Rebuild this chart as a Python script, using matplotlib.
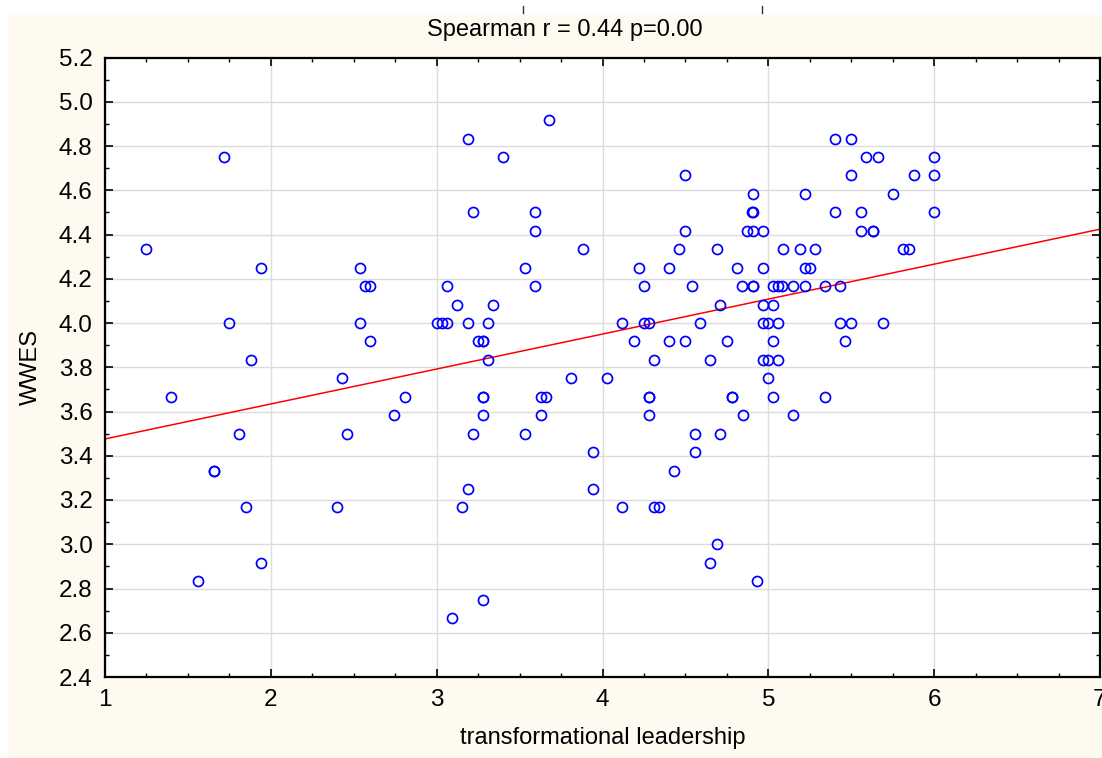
import matplotlib
matplotlib.use("Agg")
import matplotlib.pyplot as plt
from matplotlib.ticker import MultipleLocator
from matplotlib.lines import Line2D
import numpy as np

plt.rcParams['font.family'] = ['Liberation Sans', 'DejaVu Sans']

# transformational leadership (x) and WWES (y)
tl = [
    1.72, 1.25, 1.94, 2.54, 2.57, 2.60, 1.75, 2.54, 2.60, 1.88, 1.40, 2.43, 2.81, 2.74,
    1.81, 2.46, 1.66, 1.66, 1.85, 2.40, 1.94, 1.56,
    3.68, 3.19, 3.40, 4.50, 4.91, 3.22, 3.59, 4.90, 4.91, 3.59, 4.50, 4.87, 4.91, 4.97,
    3.88, 4.46, 4.69, 3.53, 4.22, 4.40, 4.81, 4.97, 3.06, 3.59, 4.25, 4.54, 4.84, 4.91,
    4.91, 3.12, 3.34, 4.71, 4.97, 3.00, 3.03, 3.06, 3.19, 3.31, 4.12, 4.25, 4.28, 4.59,
    4.97, 3.25, 3.28, 3.28, 4.19, 4.40, 4.50, 4.75, 3.31, 4.31, 4.65, 4.97, 3.81, 4.03,
    3.28, 3.28, 3.63, 3.66, 4.28, 4.28, 4.78, 4.78, 3.28, 3.63, 4.28, 4.85, 3.22, 3.53,
    4.56, 4.71, 3.94, 4.56, 4.43, 3.19, 3.94, 3.15, 4.12, 4.31, 4.34, 4.69, 4.65, 4.93,
    3.28, 3.09,
    5.40, 5.50, 5.59, 5.66, 6.00, 5.50, 5.88, 6.00, 5.22, 5.75, 5.40, 5.56, 6.00, 5.56,
    5.63, 5.63, 5.09, 5.19, 5.28, 5.81, 5.85, 5.22, 5.25, 5.03, 5.06, 5.08, 5.15, 5.22,
    5.34, 5.43, 5.03, 5.00, 5.06, 5.43, 5.50, 5.69, 5.03, 5.46, 5.00, 5.06, 5.00, 5.03,
    5.34, 5.15,
]
wwes = [
    4.750, 4.333, 4.250, 4.250, 4.167, 4.167, 4.000, 4.000, 3.917, 3.833, 3.667, 3.750, 3.667, 3.583,
    3.500, 3.500, 3.333, 3.333, 3.167, 3.167, 2.917, 2.833,
    4.917, 4.833, 4.750, 4.667, 4.583, 4.500, 4.500, 4.500, 4.500, 4.417, 4.417, 4.417, 4.417, 4.417,
    4.333, 4.333, 4.333, 4.250, 4.250, 4.250, 4.250, 4.250, 4.167, 4.167, 4.167, 4.167, 4.167, 4.167,
    4.167, 4.083, 4.083, 4.083, 4.083, 4.000, 4.000, 4.000, 4.000, 4.000, 4.000, 4.000, 4.000, 4.000,
    4.000, 3.917, 3.917, 3.917, 3.917, 3.917, 3.917, 3.917, 3.833, 3.833, 3.833, 3.833, 3.750, 3.750,
    3.667, 3.667, 3.667, 3.667, 3.667, 3.667, 3.667, 3.667, 3.583, 3.583, 3.583, 3.583, 3.500, 3.500,
    3.500, 3.500, 3.417, 3.417, 3.333, 3.250, 3.250, 3.167, 3.167, 3.167, 3.167, 3.000, 2.917, 2.833,
    2.750, 2.667,
    4.833, 4.833, 4.750, 4.750, 4.750, 4.667, 4.667, 4.667, 4.583, 4.583, 4.500, 4.500, 4.500, 4.417,
    4.417, 4.417, 4.333, 4.333, 4.333, 4.333, 4.333, 4.250, 4.250, 4.167, 4.167, 4.167, 4.167, 4.167,
    4.167, 4.167, 4.083, 4.000, 4.000, 4.000, 4.000, 4.000, 3.917, 3.917, 3.833, 3.833, 3.750, 3.667,
    3.667, 3.583,
]

# fitted line
fit_intercept = 3.318
fit_slope = 0.158

x_ticks = [1, 2, 3, 4, 5, 6, 7]
y_ticks = [2.4, 2.6, 2.8, 3.0, 3.2, 3.4, 3.6, 3.8, 4.0, 4.2, 4.4, 4.6, 4.8, 5.0, 5.2]

title = "Spearman r = 0.44 p=0.00"
xlabel = "transformational leadership"
ylabel = "WWES"

W, H = 1102, 758
fig = plt.figure(figsize=(W / 100, H / 100), dpi=100, facecolor='white')
# cream background panel
fig.patches.append(plt.Rectangle((8 / W, 0), 1 - 8 / W, 1 - 15 / H, transform=fig.transFigure,
                                 facecolor='#FFFAF0', edgecolor='none', zorder=-10))
# small cut-off marks at top edge
for px in (523, 762):
    fig.add_artist(Line2D([px / W, px / W], [1 - 13 / H, 1 - 6 / H], transform=fig.transFigure,
                          color='#333333', linewidth=1.0))

ax = fig.add_axes([105 / W, 1 - 677 / H, (1100 - 105) / W, (677 - 57.5) / H])
ax.set_facecolor('white')

ax.grid(True, which='major', color='#DCDCDC', linewidth=1.0, zorder=0)
ax.set_axisbelow(True)

ax.plot(tl, wwes, linestyle='none', marker='o', markersize=7.2, markerfacecolor='none',
        markeredgecolor='#0000FF', markeredgewidth=1.25, zorder=3, clip_on=False)

xl = np.array([x_ticks[0], x_ticks[-1]], dtype=float)
ax.plot(xl, fit_intercept + fit_slope * xl, color='#FF0000', linewidth=1.1, zorder=2)

ax.set_xlim(x_ticks[0], x_ticks[-1])
ax.set_ylim(y_ticks[0], y_ticks[-1])
ax.set_xticks(x_ticks)
ax.set_yticks(y_ticks)
ax.set_xticklabels([str(t) for t in x_ticks])
ax.set_yticklabels([f"{t:.1f}" for t in y_ticks])
ax.xaxis.set_minor_locator(MultipleLocator(0.25))
ax.yaxis.set_minor_locator(MultipleLocator(0.1))

ax.tick_params(which='both', direction='in', top=True, right=True, colors='black')
ax.tick_params(which='major', length=6, width=1.2, labelsize=17.5, pad=9)
ax.tick_params(which='minor', length=3, width=1.0)
for s in ax.spines.values():
    s.set_linewidth(1.6)
    s.set_color('black')

fig.text(565 / W, 1 - 30 / H, title, fontsize=17, ha='center', va='center')
ax.set_xlabel(xlabel, fontsize=17, labelpad=11)
ax.set_ylabel(ylabel, fontsize=17, labelpad=12)

fig.savefig('out.png', dpi=100, facecolor=fig.get_facecolor())
